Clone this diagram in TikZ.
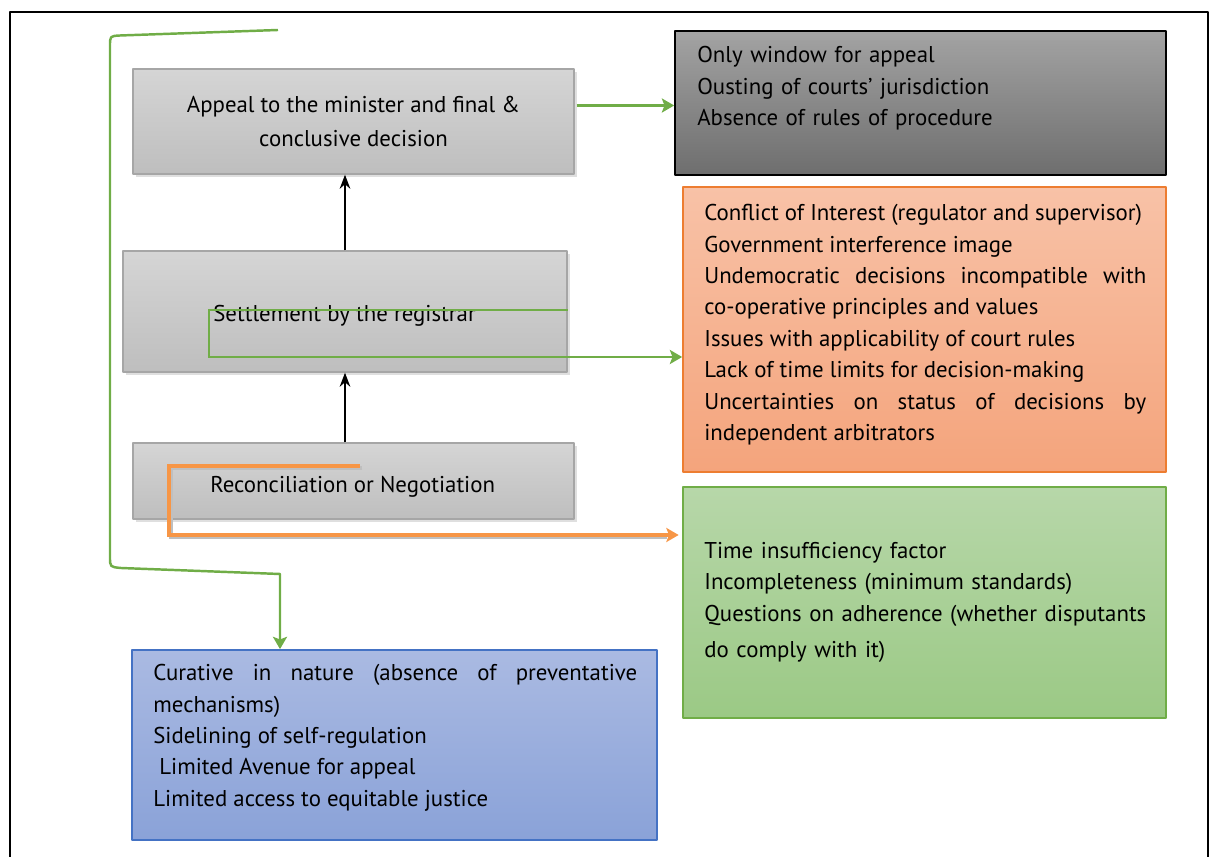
\documentclass[tikz,border=0pt]{standalone}
\usepackage{fontspec}
\setmainfont{PT Sans}
\usepackage{tikz}
\usetikzlibrary{calc, arrows.meta, shadows}

\definecolor{grisH}{HTML}{D5D5D5}
\definecolor{grisB}{HTML}{BEBEBE}
\definecolor{grisBord}{HTML}{A6A6A6}
\definecolor{sombreH}{HTML}{A3A3A3}
\definecolor{sombreB}{HTML}{6E6E6E}
\definecolor{orangeH}{HTML}{F8C2A7}
\definecolor{orangeB}{HTML}{F4A47C}
\definecolor{orangeBord}{HTML}{ED7D31}
\definecolor{orangeLien}{HTML}{F79646}
\definecolor{vertH}{HTML}{B7D7A9}
\definecolor{vertB}{HTML}{9BC985}
\definecolor{vertBord}{HTML}{70AD47}
\definecolor{bleuH}{HTML}{AABAE2}
\definecolor{bleuB}{HTML}{8AA2D8}
\definecolor{bleuBord}{HTML}{4472C4}

\tikzset{
  texte/.style={inner sep=0pt, font=\fontsize{13}{17.9}\selectfont},
  etape/.style={draw=grisBord, line width=0.8pt, top color=grisH, bottom color=grisB,
    drop shadow={shadow xshift=1.5pt, shadow yshift=-1.5pt, opacity=0.25}, texte},
  boite/.style={line width=1pt},
  lien vert/.style={draw=vertBord, line width=1.4pt, -{Stealth[length=7pt, width=8pt, inset=1.5pt]}},
}

\begin{document}
\begin{tikzpicture}[x=0.02cm, y=-0.02cm, line join=round]
  \useasboundingbox (0,0) rectangle (1211,857);
  % Cadre extérieur
  \draw[line width=1.6pt] (10,857) -- (10,12) -- (1208,12) -- (1208,857);
  % Étapes (boîtes grises)
  \node[etape, minimum width=8.82cm, minimum height=2.1cm, align=center,
    font=\fontsize{13}{19.8}\selectfont] (appel) at (353.5,121.5)
    {Appeal to the minister and final \&\\conclusive decision};
  \node[etape, minimum width=8.88cm, minimum height=2.42cm] (reglement) at (345,311.5) {};
  \node[texte, anchor=west] (lreglement) at (213,316) {Settlement by the registrar};
  \node[etape, minimum width=8.82cm, minimum height=1.52cm] (conciliation) at (353.5,481) {};
  \node[texte, anchor=west] (lconciliation) at (210,487) {Reconciliation or Negotiation};
  % Flèches entre étapes
  \draw[line width=1.2pt, -{Stealth[length=8pt, width=6pt]}] (reglement.north) -- (reglement.north |- appel.south);
  \draw[line width=1.2pt, -{Stealth[length=8pt, width=6pt]}] (conciliation.north -| reglement.north) -- (reglement.south);
  % Boîtes de constats
  \node[boite, draw=black, top color=sombreH, bottom color=sombreB,
    minimum width=9.82cm, minimum height=2.88cm] (fenetre) at (920.5,103) {};
  \node[texte, anchor=north west, text width=9cm, align=left] (lfenetre) at (697,46)
    {Only window for appeal\\Ousting of courts’ jurisdiction\\Absence of rules of procedure};
  \node[boite, draw=orangeBord, top color=orangeH, bottom color=orangeB,
    minimum width=9.66cm, minimum height=5.7cm] (conflits) at (924.5,329.5) {};
  \node[texte, anchor=north west, text width=8.84cm, align=justify] (lconflits) at (704,204)
    {Conflict of Interest (regulator and supervisor)\par
     Government interference image\par
     Undemocratic decisions incompatible with\linebreak co-operative principles and values\par
     Issues with applicability of court rules\par
     Lack of time limits for decision-making\par
     Uncertainties on status of decisions by\linebreak independent arbitrators};
  \node[boite, draw=vertBord, top color=vertH, bottom color=vertB,
    minimum width=9.66cm, minimum height=4.62cm] (lacunes) at (924.5,602.5) {};
  \node[texte, anchor=north west, text width=9.2cm, align=left] (llacunes) at (704,542)
    {Time insufficiency factor\\Incompleteness (minimum standards)\\
     Questions on adherence (whether disputants\\[0.1cm]do comply with it)};
  \node[boite, draw=bleuBord, top color=bleuH, bottom color=bleuB,
    minimum width=10.5cm, minimum height=3.8cm] (curatif) at (394.5,745) {};
  \node[texte, anchor=north west, text width=9.68cm, align=justify] (lcuratif) at (153,664)
    {Curative in nature (absence of preventative\linebreak mechanisms)\par
     Sidelining of self-regulation\par
     \hspace*{0.12cm}Limited Avenue for appeal\par
     Limited access to equitable justice};
  % Liens
  \coordinate (depart1) at ($(appel.east)+(2,-16)$);
  \draw[lien vert] (depart1) -- (depart1 -| fenetre.west);
  \coordinate (depart2) at ($(reglement.east)+(0,-1.5)$);
  \coordinate (coin2) at (209,357);
  \draw[lien vert, line join=miter] (depart2) -| (coin2) -- (coin2 -| conflits.west);
  \coordinate (depart3) at (360,466);
  \coordinate (coin3) at (169,535);
  \draw[line width=2.3pt, black!25, line join=miter, shorten >=4pt] ($(depart3)+(2,2)$) -| ($(coin3)+(2,2)$) -- ($(coin3 -| lacunes.west)+(-8,2)$);
  \draw[line width=2.3pt, orangeLien, line join=miter, -{Stealth[length=7pt, width=8pt, inset=1.5pt]}, shorten >=2pt]
    (depart3) -| (coin3) -- (coin3 -| lacunes.west);
  \coordinate (crochet) at (278,30);
  \coordinate (coude) at (280,574);
  \draw[lien vert] (crochet) -- (120,35.5) .. controls (110,36) .. (110,46)
    -- (110,557) .. controls (110,567) .. (121,568) -- (coude) -- (coude |- curatif.north);
\end{tikzpicture}
\end{document}
